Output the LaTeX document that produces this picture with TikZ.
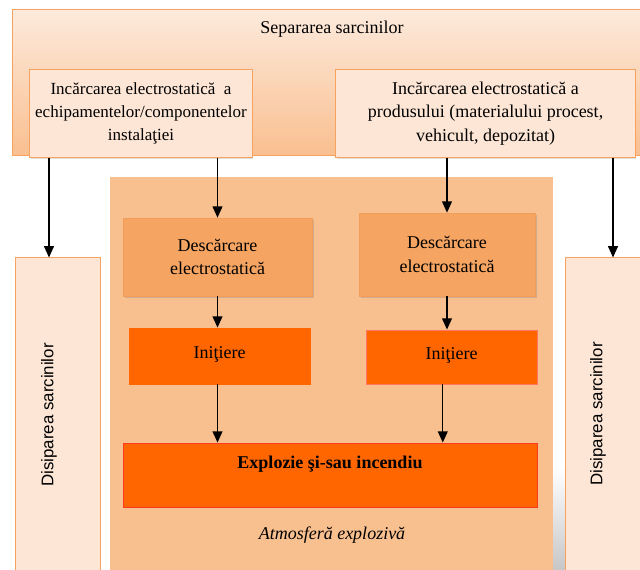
\documentclass[tikz,border=0pt]{standalone}
\usepackage{fontspec}
\setmainfont{Liberation Serif}
\newfontfamily\disfont{Liberation Sans}
\usetikzlibrary{arrows.meta,shadows,positioning}
\definecolor{septop}{HTML}{FDEADC}
\definecolor{sepbot}{HTML}{F9BF90}
\definecolor{peach}{HTML}{FDE6D6}
\definecolor{peachline}{HTML}{F7A35F}
\definecolor{atmfill}{HTML}{F8BF8F}
\definecolor{descfill}{HTML}{F5A462}
\definecolor{descline}{HTML}{F29D5A}
\definecolor{hotfill}{HTML}{FF6600}
\definecolor{hotline}{HTML}{FF3B1F}

\begin{document}
\begin{tikzpicture}[x=0.025cm,y=-0.025cm,
  font=\fontsize{12.8}{16.5}\selectfont,
  sepbox/.style={draw=peachline,line width=0.7pt,top color=septop,bottom color=sepbot},
  lightbox/.style={draw=peachline,line width=0.7pt,fill=peach,align=center,
    drop shadow={shadow xshift=1pt,shadow yshift=-1.2pt,opacity=.25}},
  descbox/.style={draw=descline,line width=0.5pt,fill=descfill,align=center,
    drop shadow={shadow xshift=1.5pt,shadow yshift=-1.5pt,opacity=.3}},
  hotbox/.style={draw=#1,line width=0.6pt,fill=hotfill},
  distext/.style={rotate=90,font=\disfont\fontsize{12}{14}\selectfont},
  flow/.style={-{Triangle[length=8pt,width=7pt]},line width=1pt}]
\path[use as bounding box,clip] (0,0) rectangle (640,570);

% charge separation
\node[sepbox,minimum width=16.175cm,minimum height=3.625cm] (sep) at (336.5,82.5) {};
\node (septext) at (332,29) {Separarea sarcinilor};
\node[lightbox,minimum width=5.55cm,minimum height=2.175cm,
  font=\fontsize{12.1}{16.5}\selectfont] (inst) at (141,113.5)
  {Incărcarea electrostatică\ \ a\\echipamentelor/componentelor\\instalaţiei};
\node[lightbox,minimum width=7.475cm,minimum height=2.175cm] (prod) at (485.5,113.5)
  {Incărcarea electrostatică a\\produsului (materialului procest,\\vehicult, depozitat)};

% explosive atmosphere
\shade[top color=white,bottom color=black!22] (553,468) rectangle (565,570);
\node[fill=atmfill,minimum width=11.075cm,minimum height=10.325cm] (atm) at (331.5,383.5) {};
\node[font=\itshape\fontsize{12.8}{16.5}\selectfont] (atmtext) at (332,535) {Atmosferă explozivă};
\node[descbox,minimum width=4.725cm,minimum height=1.95cm] (d1) at (217.5,257) {Descărcare\\electrostatică};
\node[descbox,minimum width=4.4cm,minimum height=2.075cm] (d2) at (447,254.5) {Descărcare\\electrostatică};
\node[hotbox=hotfill,minimum width=4.525cm,minimum height=1.4cm,text depth=5pt] (i1) at (219.5,356) {Iniţiere};
\node[hotbox=hotline!70,minimum width=4.275cm,minimum height=1.35cm,text depth=5pt] (i2) at (451.5,357) {Iniţiere};
\node[hotbox=hotline,minimum width=10.35cm,minimum height=1.6cm] (ex) at (330,475) {};
\node[font=\bfseries\fontsize{12.8}{16.5}\selectfont] (extext) at (330,464) {Explozie şi-sau incendiu};

% charge dissipation
\node[lightbox,minimum width=2.1cm,minimum height=8.3cm] (dl) at (58,424) {};
\node[distext] (dltext) at (49,415) {Disiparea sarcinilor};
\node[lightbox,minimum width=2.35cm,minimum height=8.3cm] (dr) at (613,424) {};
\node[distext] (drtext) at (598,414) {Disiparea sarcinilor};

% arrows
\draw[flow] (inst.south -| dltext) -- (dltext |- dl.north);
\draw[flow] (inst.south -| d1.north) -- (d1.north);
\draw[flow] (prod.south -| d2.north) -- (d2.north);
\draw[flow] (prod.south -| dr.north) -- (dr.north);
\draw[flow] (d1.south) -- (i1.north -| d1.south);
\draw[flow] (i1.south -| d1.south) -- (ex.north -| d1.south);
\draw[flow] (d2.south) -- (i2.north -| d2.south);
\draw[flow] ([xshift=-3pt]i2.south -| d2.south) -- ([xshift=-3pt]ex.north -| d2.south);
\end{tikzpicture}
\end{document}
